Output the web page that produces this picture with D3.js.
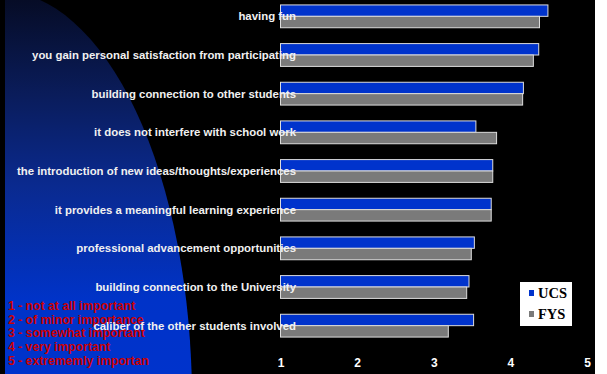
<!DOCTYPE html>
<html>
<head>
<meta charset="utf-8">
<script src="https://cdn.jsdelivr.net/npm/d3@7"></script>
<style>
  html, body { margin: 0; padding: 0; background: #ffffff; }
  svg { display: block; }
</style>
</head>
<body>
<svg id="chart" width="607" height="374"></svg>
<script>
// Reasons for participating, mean importance rating (1–5)
const reasons = [
  "having fun",
  "you gain personal satisfaction from participating",
  "building connection to other students",
  "it does not interfere with school work",
  "the introduction of new ideas/thoughts/experiences",
  "it provides a meaningful learning experience",
  "professional advancement opportunities",
  "building connection to the University",
  "caliber of the other students involved"
];
const ucsValues = [4.49, 4.37, 4.17, 3.55, 3.77, 3.75, 3.53, 3.46, 3.52];
const fysValues = [4.38, 4.30, 4.16, 3.82, 3.77, 3.75, 3.49, 3.43, 3.19];
const seriesNames = ["UCS", "FYS"];
const tickValues = [1, 2, 3, 4, 5];
const scaleKey = [
  "1 - not at all important",
  "2 - of minor importance",
  "3 - somewhat important",
  "4 - very important",
  "5 - extrememly importan"
];

const colors = { UCS: "#0033cc", FYS: "#7a7a7a" };
const series = { UCS: ucsValues, FYS: fysValues };

const svg = d3.select("#chart");
const W = 607, H = 374;

// slide background: black panel with a blue arc fading in from the top-left
const defs = svg.append("defs");
const grad = defs.append("linearGradient")
  .attr("id", "blueFade")
  .attr("gradientUnits", "userSpaceOnUse")
  .attr("x1", 0).attr("y1", 0).attr("x2", 0).attr("y2", H);
grad.append("stop").attr("offset", 0).attr("stop-color", "#060c26");
grad.append("stop").attr("offset", 0.25).attr("stop-color", "#0a1c5a");
grad.append("stop").attr("offset", 0.5).attr("stop-color", "#0a2a90");
grad.append("stop").attr("offset", 0.8).attr("stop-color", "#0033c8");
grad.append("stop").attr("offset", 1).attr("stop-color", "#0033cc");

defs.append("clipPath").attr("id", "slideClip")
  .append("rect").attr("x", 5).attr("y", 0).attr("width", 590).attr("height", H);

svg.append("rect").attr("x", 0).attr("y", 0).attr("width", 595).attr("height", H).attr("fill", "#000");
svg.append("ellipse")
  .attr("clip-path", "url(#slideClip)")
  .attr("cx", 0).attr("cy", 400).attr("rx", 192).attr("ry", 409)
  .attr("fill", "url(#blueFade)");

// scales
const x = d3.scaleLinear().domain([1, 5]).range([280.5, 587]);
const y = d3.scaleBand().domain(reasons).range([-3, 345]).paddingInner(0.41).paddingOuter(0.205);
const sub = d3.scaleBand().domain(seriesNames).range([0, y.bandwidth()]);

// bars
const groups = svg.append("g").selectAll("g")
  .data(reasons)
  .join("g")
  .attr("transform", d => `translate(0,${y(d)})`);

groups.selectAll("rect")
  .data((d, i) => seriesNames.map(s => ({ s, v: series[s][i] })))
  .join("rect")
  .attr("x", x(1))
  .attr("y", d => sub(d.s))
  .attr("width", d => x(d.v) - x(1))
  .attr("height", sub.bandwidth())
  .attr("fill", d => colors[d.s])
  .attr("stroke", "#dcdcdc")
  .attr("stroke-width", 1);

// rating scale key
svg.append("g").selectAll("text")
  .data(scaleKey)
  .join("text")
  .attr("x", 8)
  .attr("y", (d, i) => 310 + i * 13.7)
  .attr("font-family", "Liberation Sans, Arial, sans-serif")
  .attr("font-weight", "bold")
  .attr("font-size", 12.2)
  .attr("fill", "#cc0000")
  .text(d => d);

// category labels
svg.append("g").selectAll("text")
  .data(reasons)
  .join("text")
  .attr("x", 296)
  .attr("y", d => y(d) + y.bandwidth() / 2 + 4)
  .attr("text-anchor", "end")
  .attr("font-family", "Liberation Sans, Arial, sans-serif")
  .attr("font-weight", "bold")
  .attr("font-size", 11.4)
  .attr("fill", "#f0f0f0")
  .text(d => d);

// value axis
const axis = d3.axisBottom(x).tickValues(tickValues).tickFormat(d3.format("d")).tickSize(0).tickPadding(0);
const axG = svg.append("g").attr("transform", "translate(0,358)").call(axis);
axG.select(".domain").remove();
axG.selectAll("text")
  .attr("font-family", "Liberation Sans, Arial, sans-serif")
  .attr("font-weight", "bold")
  .attr("font-size", 12)
  .attr("fill", "#ffffff");

// legend
const lg = svg.append("g").attr("transform", "translate(520,282)");
lg.append("rect").attr("width", 52).attr("height", 44).attr("fill", "#ffffff");
seriesNames.forEach((s, i) => {
  lg.append("rect").attr("x", 9).attr("y", 8 + i * 21).attr("width", 5).attr("height", 6).attr("fill", colors[s]);
  lg.append("text").attr("x", 18).attr("y", 16 + i * 21)
    .attr("font-family", "Liberation Serif, Times New Roman, serif")
    .attr("font-weight", "bold")
    .attr("font-size", 14.5)
    .attr("fill", "#000")
    .text(s);
});
</script>
</body>
</html>
